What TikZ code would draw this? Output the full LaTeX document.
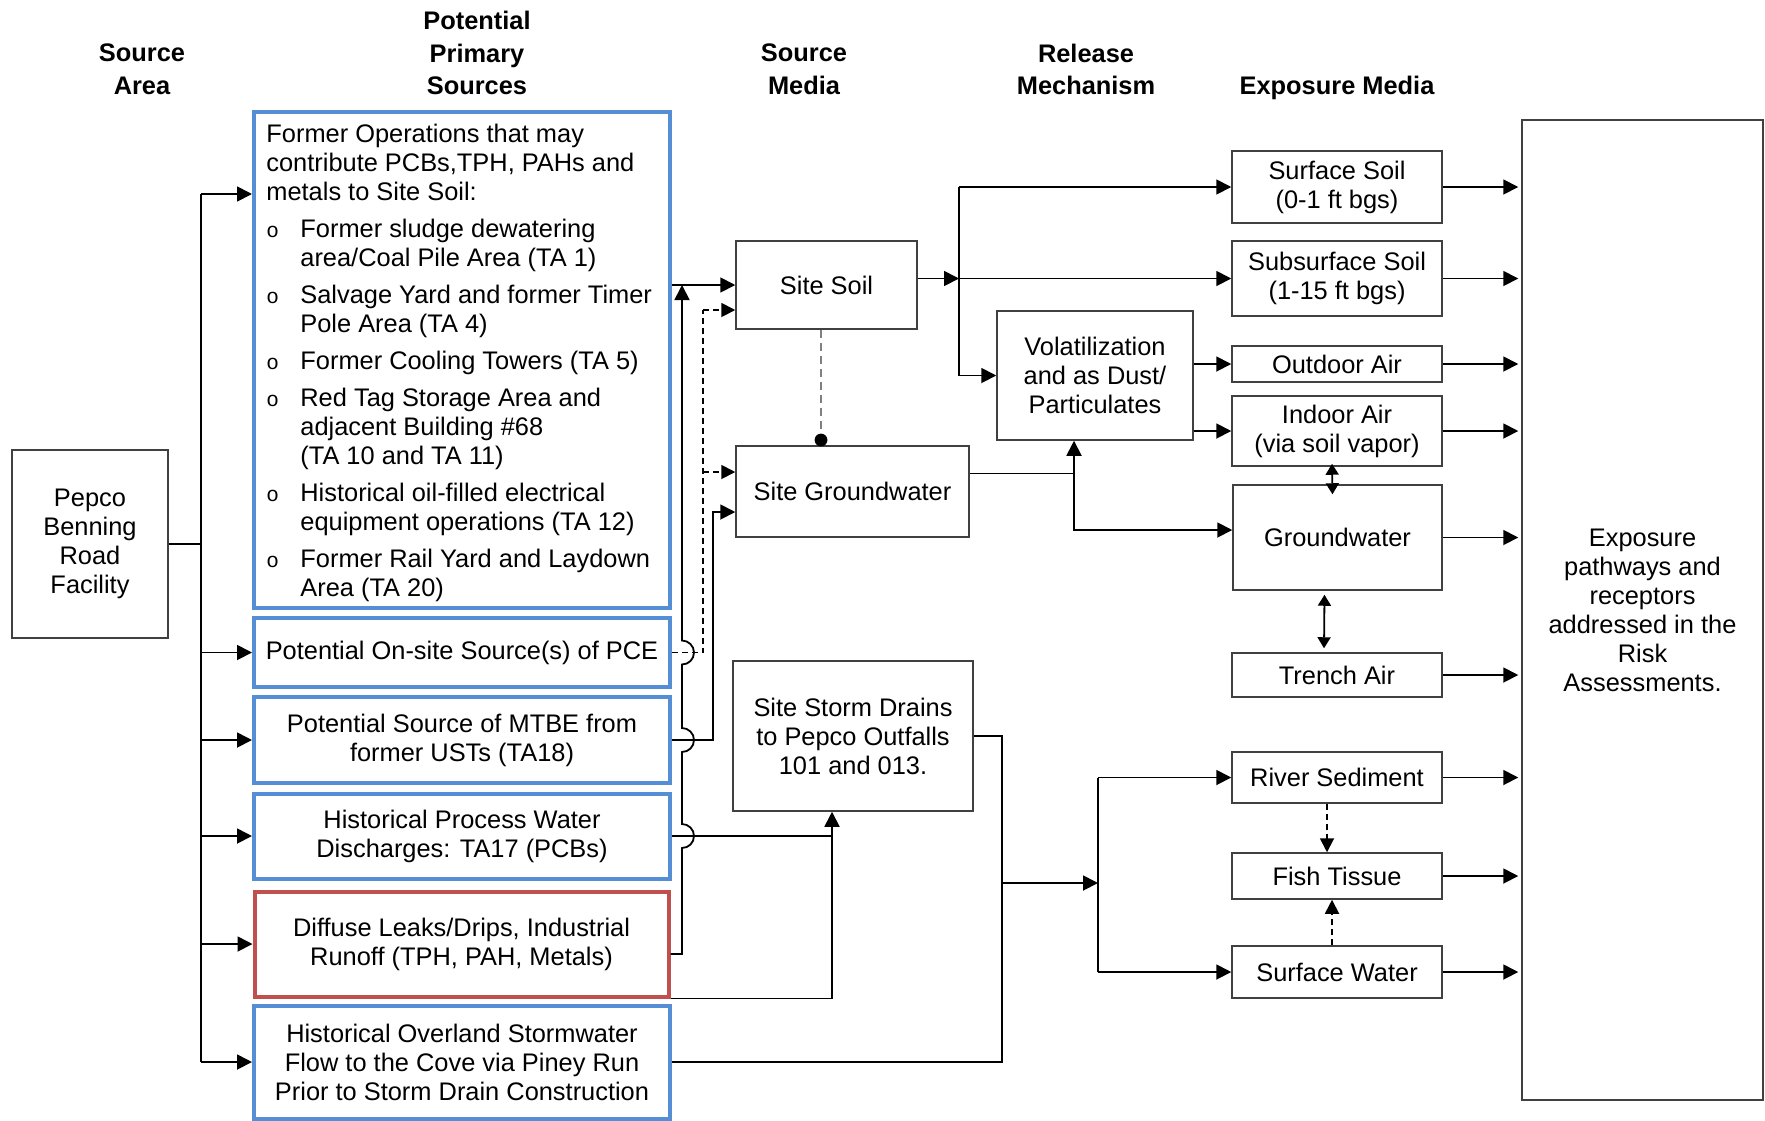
\documentclass[tikz,border=0pt]{standalone}
\usepackage{fontspec}
\setmainfont{Liberation Sans}
\newfontfamily\monofont{Liberation Mono}
\usetikzlibrary{arrows.meta,calc}
\definecolor{pblue}{RGB}{85,142,213}
\definecolor{pred}{RGB}{192,80,77}
\newcommand\bodyfont{\fontsize{12.7}{14.5}\selectfont}
\newcommand\fofont{\fontsize{12.7}{14.3}\selectfont}
\newcommand\hdrfont{\fontsize{12.7}{16.4}\selectfont\bfseries}
\newcommand\bl{\makebox[17pt][l]{\monofont\fontsize{10.5}{12}\selectfont o}}
\newcommand\ind{\hspace*{17pt}}
\begin{document}
\begin{tikzpicture}[x=0.5pt,y=-0.5pt,
 box/.style={draw=black!75, line width=0.75pt, inner sep=0pt, align=center, font=\bodyfont},
 bbox/.style={draw=pblue, line width=2pt, inner sep=0pt, align=center, font=\bodyfont},
 rbox/.style={draw=pred, line width=2pt, inner sep=0pt, align=center, font=\bodyfont},
 conn/.style={line width=0.9pt},
 arr/.style={conn, -{Triangle[length=7.5pt,width=7.5pt]}},
 darr/.style={conn, {Triangle[length=5.5pt,width=6.5pt]}-{Triangle[length=5.5pt,width=6.5pt]}},
 dsh/.style={conn, dash pattern=on 3pt off 2pt},
 dsharr/.style={dsh, -{Triangle[length=7pt,width=7pt]}},
 hdr/.style={font=\hdrfont, align=center, inner sep=0pt}
]
\useasboundingbox (0,0) rectangle (1765,1120);

% headers
\node[hdr] (h1) at (142,69.5) {Source\\Area};
\node[hdr] (h2) at (477,53) {Potential\\Primary\\Sources};
\node[hdr] (h3) at (804,69.5) {Source\\Media};
\node[hdr] (h4) at (1086,69.5) {Release\\Mechanism};
\node[hdr] (h5) at (1337,87.5) {Exposure Media};

% source area
\node[box, minimum width=78pt, minimum height=94pt] (pep) at (90,544) {Pepco\\Benning\\Road\\Facility};

% primary sources
\node[bbox, minimum width=208pt, minimum height=248pt] (fo) at (462,360) {};
\node[anchor=north west, align=left, inner sep=0pt, font=\fofont] (fot) at (266,124) {Former Operations that may\\
contribute PCBs,TPH, PAHs and\\
metals to Site Soil:\\[4.4pt]
\bl Former sludge dewatering\\
\ind area/Coal Pile Area (TA 1)\\[4.4pt]
\bl Salvage Yard and former Timer\\
\ind Pole Area (TA 4)\\[4.4pt]
\bl Former Cooling Towers (TA 5)\\[4.4pt]
\bl Red Tag Storage Area and\\
\ind adjacent Building \#68\\
\ind (TA 10 and TA 11)\\[4.4pt]
\bl Historical oil-filled electrical\\
\ind equipment operations (TA 12)\\[4.4pt]
\bl Former Rail Yard and Laydown\\
\ind Area (TA 20)};
\node[bbox, minimum width=208pt, minimum height=34.5pt] (pce) at (462,652.5) {Potential On-site Source(s) of PCE};
\node[bbox, minimum width=208pt, minimum height=43pt] (mtbe) at (462,740) {Potential Source of MTBE from\\former USTs (TA18)};
\node[bbox, minimum width=208pt, minimum height=42.5pt] (pw) at (462,836) {Historical Process Water\\Discharges: TA17 (PCBs)};
\node[rbox, minimum width=207pt, minimum height=52.5pt] (dl) at (461.5,944) {Diffuse Leaks/Drips, Industrial\\Runoff (TPH, PAH, Metals)};
\node[bbox, minimum width=208pt, minimum height=56.5pt] (ov) at (462,1062) {Historical Overland Stormwater\\Flow to the Cove via Piney Run\\Prior to Storm Drain Construction};

% source media
\node[box, minimum width=90.5pt, minimum height=44pt] (soil) at (826.5,285) {Site Soil};
\node[box, minimum width=116.5pt, minimum height=45.5pt] (gw) at (852.5,491.5) {Site Groundwater};
\node[box, minimum width=120pt, minimum height=75pt] (sd) at (853,736) {Site Storm Drains\\to Pepco Outfalls\\101 and 013.};

% release
\node[box, minimum width=98pt, minimum height=64.5pt] (vol) at (1095,375.5) {Volatilization\\and as Dust/\\Particulates};

% exposure media
\node[box, minimum width=105pt, minimum height=36pt] (ssoil) at (1337,187) {Surface Soil\\(0-1 ft bgs)};
\node[box, minimum width=105pt, minimum height=37.5pt] (sub) at (1337,278.5) {Subsurface Soil\\(1-15 ft bgs)};
\node[box, minimum width=105pt, minimum height=18pt] (oa) at (1337,364) {Outdoor Air};
\node[box, minimum width=105pt, minimum height=35pt] (ia) at (1337,431) {Indoor Air\\(via soil vapor)};
\node[box, minimum width=104.5pt, minimum height=52.5pt] (gwm) at (1337.5,537.5) {Groundwater};
\node[box, minimum width=105pt, minimum height=22pt] (ta) at (1337,675) {Trench Air};
\node[box, minimum width=105pt, minimum height=25.5pt] (rs) at (1337,777.5) {River Sediment};
\node[box, minimum width=105pt, minimum height=23pt] (ft) at (1337,876) {Fish Tissue};
\node[box, minimum width=105pt, minimum height=26pt] (sw) at (1337,972) {Surface Water};

\node[box, minimum width=120.5pt, minimum height=490pt] (exp) at (1642.5,610) {Exposure\\pathways and\\receptors\\addressed in the\\Risk\\Assessments.};

% helper coordinates
\coordinate (bus) at (201,0);
\coordinate (jx) at (682,0);
\coordinate (dx) at (703,0);
\coordinate (mx2) at (713,0);
\coordinate (sx) at (832,0);
\coordinate (jn) at (959,0);
\coordinate (vx) at (1074,0);
\coordinate (mx) at (1002,0);
\coordinate (rx) at (1098,0);
\coordinate (mj) at (1002,883);
\coordinate (dot) at (821,440);
\coordinate (bt) at (201,194);
\coordinate (sd1) at (703,310);
\coordinate (sd2) at (703,472);
\coordinate (mt) at (713,512);
\coordinate (gj) at (1074,530);

% source area bus
\draw[conn] (pep.east) -- (pep.east -| bus);
\draw[conn] (bt) -- (bt |- ov.west);
\draw[arr] (bt) -- (bt -| fo.west);
\foreach \n in {pce,mtbe,pw,dl,ov} \draw[arr] (bus |- \n.west) -- (\n.west);

% primary sources -> source media
\draw[arr] (soil.west -| fo.east) -- (soil.west);
\draw[arr] ([yshift=-5pt]dl.east) -- ([yshift=-5pt]dl.east -| jx)
  -- ($(jx |- pw.east)+(0,12)$) arc[start angle=-90,end angle=90,radius=6pt]
  -- ($(jx |- mtbe.east)+(0,12)$) arc[start angle=-90,end angle=90,radius=6pt]
  -- ($(jx |- pce.east)+(0,12)$) arc[start angle=-90,end angle=90,radius=6pt]
  -- (jx |- soil.west);
\draw[dsh] (pce.east) -- (pce.east -| dx) -- (sd1);
\draw[dsharr] (sd1) -- (sd1 -| soil.west);
\draw[dsharr] (sd2) -- (sd2 -| gw.west);
\draw[arr] (mtbe.east) -- (mtbe.east -| mt) -- (mt) -- (mt -| gw.west);
\draw[conn] (pw.east) -- (pw.east -| sx);
\draw[arr] (dl.south east) -- (dl.south east -| sx) -- (sx |- sd.south);
\draw[conn] (sd.east) -- (sd.east -| mx) -- (mx |- ov.east) -- (ov.east);
\draw[arr] (mj) -- (mj -| rx);
\draw[conn] (rx |- rs.west) -- (rx |- sw.west);
\draw[arr] (rx |- rs.west) -- (rs.west);
\draw[arr] (rx |- sw.west) -- (sw.west);

% soil <-> groundwater
\draw[gray, line width=0.9pt, dash pattern=on 4pt off 2.5pt] ([xshift=-2.75pt]soil.south) -- (dot);
\fill (dot) circle (3.2pt);

% site soil branches
\draw[arr] (soil.east |- sub.west) -- (jn |- sub.west);
\draw[conn] (jn |- ssoil.west) -- (jn |- vol.west);
\draw[arr] (jn |- ssoil.west) -- (ssoil.west);
\draw[arr] (jn |- sub.west) -- (sub.west);
\draw[arr] (jn |- vol.west) -- (vol.west);

% volatilization
\draw[arr] (vol.east |- oa.west) -- (oa.west);
\draw[arr] (vol.east |- ia.west) -- (ia.west);

% site groundwater
\draw[conn] ([yshift=9pt]gw.east) -- ([yshift=9pt]gw.east -| vx);
\draw[arr] ([yshift=9pt]gw.east -| vx) -- (vx |- vol.south);
\draw[arr] ([yshift=9pt]gw.east -| vx) -- (gj) -- (gj -| gwm.west);

% media interactions
\draw[darr] ([xshift=-2.5pt,yshift=1.5pt]ia.south) -- ([xshift=-2.5pt,yshift=-5pt]gwm.north);
\draw[darr] ([xshift=-6.5pt,yshift=-2pt]gwm.south) -- ([xshift=-6.5pt,yshift=2pt]ta.north);
\draw[dsharr] ([xshift=-5pt]rs.south) -- ([xshift=-5pt]ft.north);
\draw[dsharr] ([xshift=-2.5pt]sw.north) -- ([xshift=-2.5pt]ft.south);

% to exposure box
\foreach \n in {ssoil,sub,oa,ia,gwm,ta,rs,ft,sw} \draw[arr, shorten >=1.5pt] (\n.east) -- (\n.east -| exp.west);
\end{tikzpicture}
\end{document}
